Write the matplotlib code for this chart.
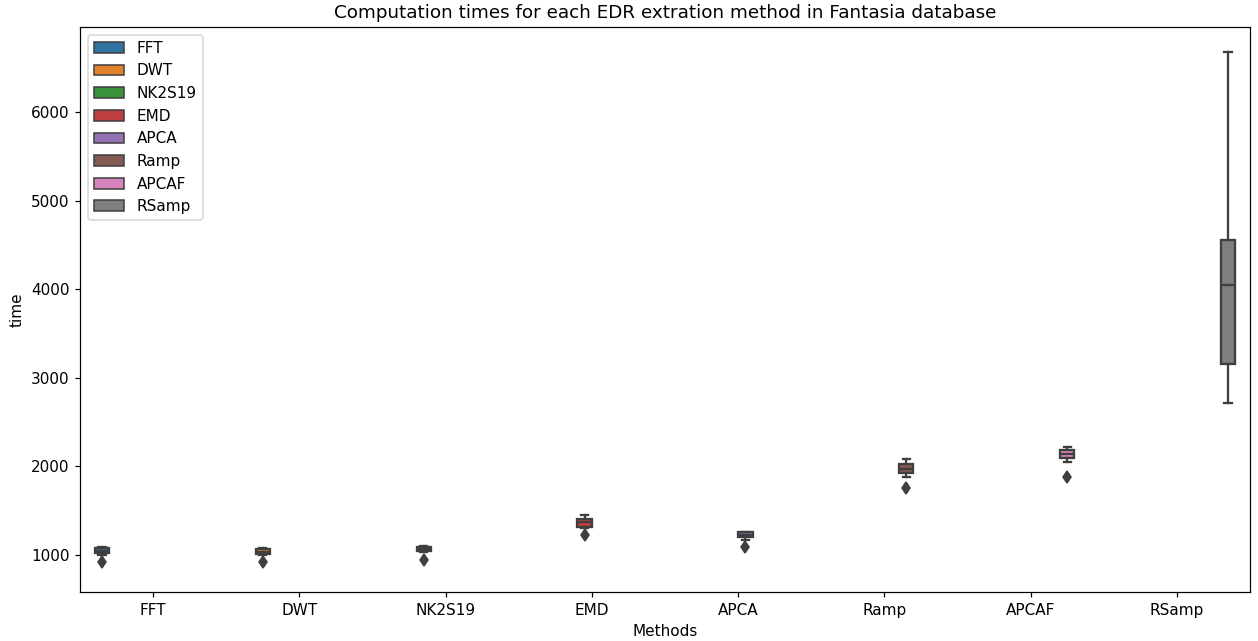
import numpy as np
import matplotlib.pyplot as plt
from matplotlib.patches import Patch

# computation time summary per EDR extraction method (Fantasia)
methods = ["FFT", "DWT", "NK2S19", "EMD", "APCA", "Ramp", "APCAF", "RSamp"]
whislo = [1005, 995, 1030, 1300, 1165, 1880, 2045, 2716]
q1 = [1020, 1010, 1045, 1320, 1200, 1920, 2090, 3150]
med = [1040, 1035, 1070, 1375, 1225, 1975, 2145, 4045]
q3 = [1075, 1070, 1095, 1410, 1255, 2030, 2180, 4560]
whishi = [1090, 1080, 1105, 1455, 1265, 2080, 2220, 6677]
fliers = [[925], [920], [945], [1225], [1085], [1760], [1885], []]

colors = ["#3274a1", "#e1812c", "#3a923a", "#c03d3e",
          "#9372b2", "#845b53", "#d684bd", "#7f7f7f"]
gray = "#3f3f3f"

dpi = 110
fig = plt.figure(figsize=(1258 / dpi, 641 / dpi), dpi=dpi)
ax = fig.add_axes([0.0636, 0.0764, 0.9300, 0.8816])

n = len(methods)
slot = 0.8 / n
stats = []
positions = []
for i in range(n):
    stats.append(dict(whislo=whislo[i], q1=q1[i], med=med[i], q3=q3[i],
                      whishi=whishi[i], fliers=fliers[i], label=methods[i]))
    # each method sits in its own hue slot inside its group
    positions.append(i - 0.4 + slot / 2 + i * slot)

bp = ax.bxp(stats, positions=positions, widths=slot * 0.98, patch_artist=True,
            manage_ticks=False,
            boxprops=dict(edgecolor=gray, linewidth=1.5),
            medianprops=dict(color=gray, linewidth=1.5),
            whiskerprops=dict(color=gray, linewidth=1.5),
            capprops=dict(color=gray, linewidth=1.5),
            flierprops=dict(marker="d", markerfacecolor=gray, markeredgecolor=gray,
                            markersize=6, linestyle="none"))
for box, c in zip(bp["boxes"], colors):
    box.set_facecolor(c)

ax.set_xticks(range(n))
ax.set_xticklabels(methods)
ax.set_xlim(-0.5, n - 0.5)
ax.set_ylim(582, 6960)
ax.set_xlabel("Methods")
ax.set_ylabel("time")
ax.set_title("Computation times for each EDR extration method in Fantasia database")

handles = [Patch(facecolor=c, edgecolor=gray, label=m) for m, c in zip(methods, colors)]
ax.legend(handles=handles, loc="upper left")

fig.savefig("out.png", dpi=dpi)
